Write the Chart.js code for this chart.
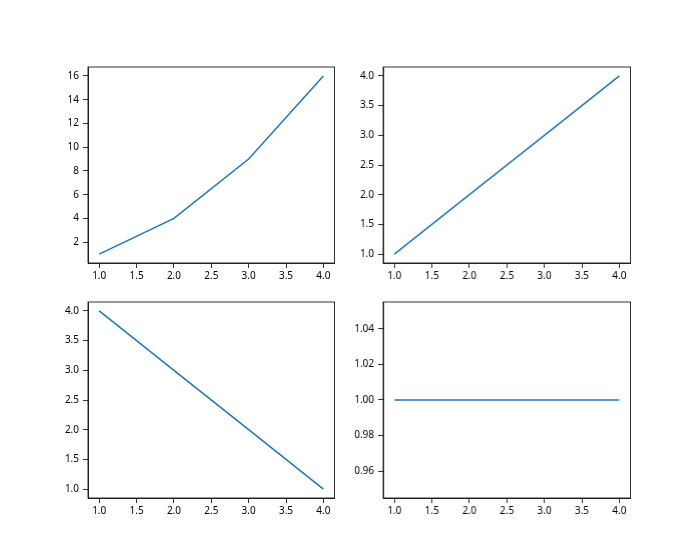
<!DOCTYPE html>
<html>
<head>
<meta charset="utf-8">
<script src="https://cdn.jsdelivr.net/npm/chart.js@4"></script>
<style>
	body { margin: 0; background: #fff; }
	#fig { position: relative; width: 700px; height: 560px; }
	.cell { position: absolute; }
</style>
</head>
<body>
<div id="fig"></div>
<script>
let xValues = [1, 2, 3, 4]
let squares = [1, 4, 9, 16]
let rising = [1, 2, 3, 4]
let falling = [4, 3, 2, 1]
let flat = [1, 1, 1, 1]

let xTicks = [1.0, 1.5, 2.0, 2.5, 3.0, 3.5, 4.0]
let squareTicks = [2, 4, 6, 8, 10, 12, 14, 16]
let halfTicks = [1.0, 1.5, 2.0, 2.5, 3.0, 3.5, 4.0]
let flatTicks = [0.96, 0.98, 1.0, 1.02, 1.04]

let panels = [
	{ data: squares, ticks: squareTicks, min: 0.25, max: 16.75, digits: 0, left: 87.5, top: 67.2 },
	{ data: rising, ticks: halfTicks, min: 0.85, max: 4.15, digits: 1, left: 383.4, top: 67.2 },
	{ data: falling, ticks: halfTicks, min: 0.85, max: 4.15, digits: 1, left: 87.5, top: 302.4 },
	{ data: flat, ticks: flatTicks, min: 0.945, max: 1.055, digits: 2, left: 383.4, top: 302.4 },
]

let axW = 246.6
let axH = 196
let padL = 50
let padT = 12
let padR = 14
let padB = 30

// draw the full frame round the plot area
let frame = {
	id: 'frame',
	afterDraw(chart) {
		let a = chart.chartArea
		let c = chart.ctx
		c.save()
		c.strokeStyle = '#000'
		c.lineWidth = 0.8
		c.strokeRect(a.left, a.top, a.right - a.left, a.bottom - a.top)
		c.restore()
	},
}

Chart.defaults.font.family = '"Noto Sans", "DejaVu Sans", sans-serif'
Chart.defaults.font.size = 10
Chart.defaults.color = '#000'

let fig = document.getElementById('fig')

panels.forEach((p) => {
	let div = document.createElement('div')
	div.className = 'cell'
	div.style.left = p.left - padL + 'px'
	div.style.top = p.top - padT + 'px'
	div.style.width = axW + padL + padR + 'px'
	div.style.height = axH + padT + padB + 'px'
	let canvas = document.createElement('canvas')
	div.appendChild(canvas)
	fig.appendChild(div)

	new Chart(canvas.getContext('2d'), {
		type: 'line',
		data: {
			datasets: [
				{
					data: xValues.map((x, i) => ({ x: x, y: p.data[i] })),
					borderColor: '#1f77b4',
					borderWidth: 1.5,
					pointRadius: 0,
					tension: 0,
					fill: false,
				},
			],
		},
		options: {
			responsive: true,
			maintainAspectRatio: false,
			animation: false,
			layout: { padding: { top: padT, right: padR, left: 0, bottom: 0 } },
			plugins: { legend: { display: false }, tooltip: { enabled: false } },
			scales: {
				x: {
					type: 'linear',
					min: 0.85,
					max: 4.15,
					afterBuildTicks: (s) => {
						s.ticks = xTicks.map((v) => ({ value: v }))
					},
					afterFit: (s) => {
						s.height = padB
					},
					ticks: { callback: (v) => v.toFixed(1), maxRotation: 0, autoSkip: false, padding: 2 },
					grid: { drawOnChartArea: false, color: '#000', tickLength: 5, lineWidth: 0.8 },
					border: { display: true, color: '#000', width: 0.8 },
				},
				y: {
					type: 'linear',
					min: p.min,
					max: p.max,
					afterBuildTicks: (s) => {
						s.ticks = p.ticks.map((v) => ({ value: v }))
					},
					afterFit: (s) => {
						s.width = padL
					},
					ticks: { callback: (v) => v.toFixed(p.digits), autoSkip: false, padding: 4 },
					grid: { drawOnChartArea: false, color: '#000', tickLength: 5, lineWidth: 0.8 },
					border: { display: true, color: '#000', width: 0.8 },
				},
			},
		},
		plugins: [frame],
	})
})
</script>
</body>
</html>
